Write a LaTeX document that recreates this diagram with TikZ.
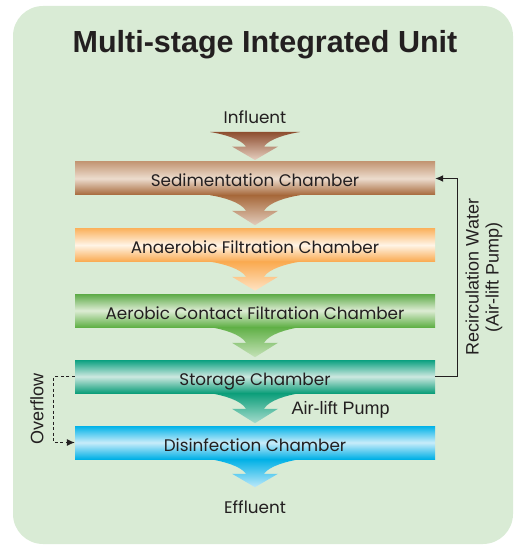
\documentclass[tikz,border=0pt]{standalone}
\usepackage{fontspec}
\setmainfont{Liberation Sans}
\newfontfamily\chamberfont{Poppins}
\usepackage{xcolor}
\definecolor{panel_green}{HTML}{D9EBD5}
\definecolor{ink}{HTML}{231F20}
\definecolor{sed_top}{HTML}{C49876}
\definecolor{sed_mid}{HTML}{ECDCCD}
\definecolor{sed_bot}{HTML}{A6683A}
\definecolor{ana_top}{HTML}{FBB25E}
\definecolor{ana_mid}{HTML}{FFF4E6}
\definecolor{ana_bot}{HTML}{FAAA50}
\definecolor{aer_top}{HTML}{5CAA46}
\definecolor{aer_mid}{HTML}{DDECD4}
\definecolor{aer_bot}{HTML}{60B046}
\definecolor{sto_top}{HTML}{0AA080}
\definecolor{sto_mid}{HTML}{CDE8E0}
\definecolor{sto_bot}{HTML}{0C9E7A}
\definecolor{dis_top}{HTML}{00B2E8}
\definecolor{dis_mid}{HTML}{C8ECFA}
\definecolor{dis_bot}{HTML}{00B0E6}
\definecolor{in_top}{HTML}{8E4E30}
\definecolor{in_tip}{HTML}{E6CFC0}
\definecolor{sed_tip}{HTML}{E3CCBC}
\definecolor{ana_tip}{HTML}{FFE3C4}
\definecolor{aer_tip}{HTML}{C5E2B8}
\definecolor{sto_tip}{HTML}{A6DCCD}
\definecolor{dis_tip}{HTML}{BDE8FA}
\usetikzlibrary{arrows.meta,calc}
% funnel arrow hanging below a point: #1 top point, #2 depth, #3 top colour, #4 tip colour
\newcommand{\funnel}[4]{%
  \shade[shift={(#1)}, top color=#3, bottom color=#4]
    (-45,0) .. controls (-32,2) and (-14,7) .. (-9,0.52*#2) -- (-23,0.52*#2)
    -- (0,#2) -- (23,0.52*#2) -- (9,0.52*#2) .. controls (14,7) and (32,2) .. (45,0) -- cycle;}

\begin{document}
\begin{tikzpicture}[x=1pt, y=-1pt]
\tikzset{
    chamber/.style={rectangle, minimum width=360pt, minimum height=33pt, inner sep=0pt,
                    text height=17pt, text depth=0pt,
                    text=ink, font=\chamberfont\fontsize{16.8}{20}\selectfont},
    flow/.style={text=ink, font=\chamberfont\fontsize{16.8}{20}\selectfont},
    lbl/.style={text=ink, font=\fontsize{18}{20}\selectfont},
    edge/.style={-{Latex[length=8pt, width=7pt]}, line width=1.2pt, color=ink}
}
\useasboundingbox (0,0) rectangle (519,545);
\fill[panel_green, rounded corners=30pt] (13,6) rectangle (513,544);
\node[text=ink, font=\bfseries\fontsize{30.5}{34}\selectfont] (title) at (265,45) {Multi-stage Integrated Unit};
  % chambers
\node[flow] (in) at (255,117) {Influent};
\node[chamber, top color=sed_top, bottom color=sed_bot, middle color=sed_mid] (1) at (255,178.5) {Sedimentation Chamber};
\node[chamber, top color=ana_top, bottom color=ana_bot, middle color=ana_mid] (2) at (255,245) {Anaerobic Filtration Chamber};
\node[chamber, top color=aer_top, bottom color=aer_bot, middle color=aer_mid] (3) at (255,310.5) {Aerobic Contact Filtration Chamber};
\node[chamber, top color=sto_top, bottom color=sto_bot, middle color=sto_mid] (4) at (255,376.5) {Storage Chamber};
\node[chamber, top color=dis_top, bottom color=dis_bot, middle color=dis_mid] (5) at (255,442.5) {Disinfection Chamber};
\node[flow] (out) at (255,507) {Effluent};
\coordinate (inflow) at (255,132);
  % funnels
\funnel{inflow}{28}{in_top}{in_tip}
\funnel{1.south}{30}{sed_bot}{sed_tip}
\funnel{2.south}{29}{ana_bot}{ana_tip}
\funnel{3.south}{30}{aer_bot}{aer_tip}
\funnel{4.south}{30}{sto_bot}{sto_tip}
\funnel{5.south}{28}{dis_bot}{dis_tip}
  % side lines
\draw[edge] (4.east) -- ++(22,0) |- (1.east);
\draw[edge, line width=1pt, dash pattern=on 3pt off 2.5pt] (4.west) -- ++(-21,0) |- (5.west);
\node[lbl, rotate=90, align=center] (recirc) at (484,277) {Recirculation Water\\(Air-lift Pump)};
\node[lbl, rotate=90] (over) at (37,409) {Overflow};
\node[lbl, anchor=west] (pump) at (288,410) {Air-lift Pump};
\end{tikzpicture}
\end{document}
